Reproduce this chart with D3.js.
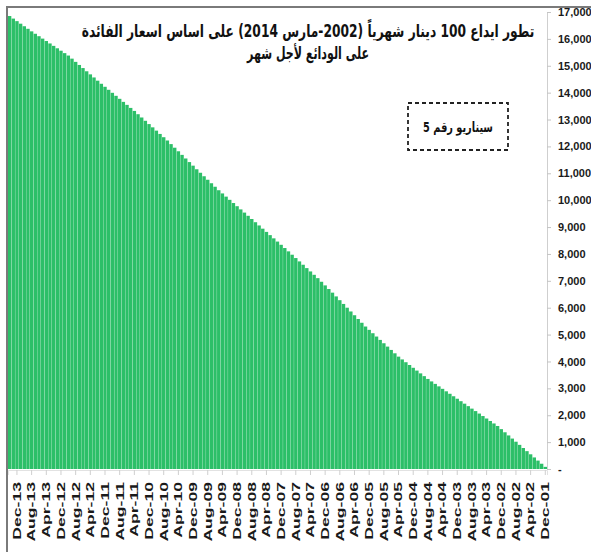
<!DOCTYPE html>
<html>
<head>
<meta charset="utf-8">
<script src="https://cdn.jsdelivr.net/npm/d3@7"></script>
<style>
  body { margin: 0; background: #fff; }
  svg { display: block; }
</style>
</head>
<body>
<div id="chart"></div>
<script>
// balance of a 100 dinar monthly deposit, newest month first (Feb-14 ... Dec-01)
const balances = [
  16850, 16755, 16660, 16565, 16470, 16375, 16280,
  16190, 16100, 16010, 15920, 15830, 15740, 15650, 15560, 15470, 15380,
  15265, 15145, 15030, 14915, 14795, 14680, 14565, 14445, 14330,
  14218, 14106, 13994, 13882, 13770, 13657, 13545, 13432, 13320,
  13198, 13076, 12953, 12831, 12709, 12587, 12464, 12342, 12220,
  12086, 11952, 11819, 11685, 11551, 11417, 11284, 11150,
  11020, 10890, 10760, 10630, 10500, 10370,
  10251, 10132, 10013, 9894, 9776, 9657, 9538, 9419, 9300,
  9180, 9060, 8940, 8820, 8700, 8580, 8460, 8340, 8220,
  8096, 7971, 7847, 7722, 7598, 7473, 7349, 7224, 7100,
  6965, 6830, 6695, 6560,
  6420, 6280, 6140, 6000, 5860, 5720, 5580, 5440, 5300,
  5176, 5051, 4927, 4802, 4678, 4553, 4429, 4304, 4180,
  4076, 3972, 3869, 3765, 3661, 3557, 3454, 3350,
  3258, 3166, 3074, 2982, 2890, 2798, 2706, 2614, 2522, 2430,
  2338, 2246, 2154, 2062, 1970, 1878, 1786, 1694, 1600,
  1483, 1366, 1249, 1132, 1015, 898, 781, 664, 547, 430, 313, 196, 80
];

const monthNames = ["Jan", "Feb", "Mar", "Apr", "May", "Jun", "Jul", "Aug", "Sep", "Oct", "Nov", "Dec"];

// x tick labels, every 4 months
const xTickLabels = [
  "Dec-13", "Aug-13", "Apr-13", "Dec-12", "Aug-12", "Apr-12", "Dec-11", "Aug-11", "Apr-11",
  "Dec-10", "Aug-10", "Apr-10", "Dec-09", "Aug-09", "Apr-09", "Dec-08", "Aug-08", "Apr-08",
  "Dec-07", "Aug-07", "Apr-07", "Dec-06", "Aug-06", "Apr-06", "Dec-05", "Aug-05", "Apr-05",
  "Dec-04", "Aug-04", "Apr-04", "Dec-03", "Aug-03", "Apr-03", "Dec-02", "Aug-02", "Apr-02",
  "Dec-01"
];

const yTickValues = [0, 1000, 2000, 3000, 4000, 5000, 6000, 7000, 8000, 9000,
  10000, 11000, 12000, 13000, 14000, 15000, 16000, 17000];

const titleLines = [
  "تطور ايداع 100 دينار شهرياً (2002-مارس 2014) على اساس اسعار الفائدة",
  "على الودائع لأجل شهر"
];
const scenarioLabel = "سيناريو رقم 5";

// month categories, walking back from Feb-14
const months = [];
let yr = 2014, mo = 1;
for (let i = 0; i < balances.length; i++) {
  months.push(monthNames[mo] + "-" + String(yr % 100).padStart(2, "0"));
  mo--;
  if (mo < 0) { mo = 11; yr--; }
}
const data = months.map((m, i) => ({ month: m, value: balances[i] }));

var W = 591, H = 552;
var plot = { left: 7.9, right: 547, top: 12, bottom: 469 };

var svg = d3.select("#chart")
  .append("svg")
  .attr("width", W)
  .attr("height", H);

var x = d3.scaleBand()
  .domain(months)
  .range([plot.left, plot.right])
  .paddingInner(0.07)
  .paddingOuter(0);

var y = d3.scaleLinear()
  .domain([0, 17000])
  .range([plot.bottom, plot.top]);

// Bars
svg.append("g")
  .selectAll("rect")
  .data(data)
  .enter()
  .append("rect")
  .attr("x", d => x(d.month))
  .attr("y", d => y(d.value))
  .attr("width", x.bandwidth())
  .attr("height", d => y(0) - y(d.value))
  .attr("fill", "#2cbf68");

// Y axis on the right
var yAxis = svg.append("g")
  .attr("transform", "translate(" + plot.right + ",0)")
  .call(d3.axisRight(y)
    .tickValues(yTickValues)
    .tickSize(4)
    .tickPadding(7)
    .tickFormat(d => d === 0 ? "-" : d3.format(",")(d)));

yAxis.select(".domain").attr("stroke", "#cfcfcf");
yAxis.selectAll(".tick line").attr("stroke", "#c4c4c4");
yAxis.selectAll("text")
  .style("font-family", "'Liberation Sans', Arial, sans-serif")
  .style("font-weight", "bold")
  .style("font-size", "11px")
  .attr("fill", "#1a1a1a");

// X axis
var xAxis = svg.append("g")
  .attr("transform", "translate(0," + (plot.bottom + 1) + ")")
  .call(d3.axisBottom(x).tickValues(xTickLabels).tickSize(5));

xAxis.select(".domain").attr("stroke", "#e2e2e2");
xAxis.selectAll(".tick line").attr("stroke", "#cfcfcf");
xAxis.selectAll("text")
  .attr("x", 0)
  .attr("y", 0)
  .attr("dy", "0.35em")
  .attr("transform", "translate(0,12) rotate(-90) scale(1.6,1)")
  .style("text-anchor", "end")
  .style("font-family", "'Liberation Sans', Arial, sans-serif")
  .style("font-weight", "bold")
  .style("font-size", "11px")
  .attr("fill", "#1a1a1a");

// Title, two centred lines, stretched to the reference widths
var titleWidths = [453, 122];
var titleY = [37, 59];
titleLines.forEach((t, i) => {
  var g = svg.append("g").attr("transform", "translate(308," + titleY[i] + ")");
  var txt = g.append("text")
    .attr("direction", "rtl")
    .attr("text-anchor", "middle")
    .style("font-family", "'DejaVu Sans', 'Noto Sans', sans-serif")
    .style("font-weight", "bold")
    .style("font-size", "17px")
    .attr("fill", "#111")
    .text(t);
  var w = txt.node().getComputedTextLength();
  if (w > 0) txt.attr("transform", "scale(" + (titleWidths[i] / w) + ",1)");
});

// Scenario box
svg.append("rect")
  .attr("x", 408)
  .attr("y", 103)
  .attr("width", 100)
  .attr("height", 47)
  .attr("fill", "none")
  .attr("stroke", "#222")
  .attr("stroke-width", 1.8)
  .attr("stroke-dasharray", "4,3");

var sg = svg.append("g").attr("transform", "translate(458,132)");
var st = sg.append("text")
  .attr("direction", "rtl")
  .attr("text-anchor", "middle")
  .style("font-family", "'DejaVu Sans', 'Noto Sans', sans-serif")
  .style("font-weight", "bold")
  .style("font-size", "14px")
  .attr("fill", "#111")
  .text(scenarioLabel);
var sw = st.node().getComputedTextLength();
if (sw > 0) st.attr("transform", "scale(" + (70 / sw) + ",1)");

// Frame: top and left edges
svg.append("line")
  .attr("x1", 6).attr("x2", W)
  .attr("y1", 7).attr("y2", 7)
  .attr("stroke", "#7a7a7a")
  .attr("stroke-width", 2);
svg.append("line")
  .attr("x1", 7).attr("x2", 7)
  .attr("y1", 6).attr("y2", H)
  .attr("stroke", "#7a7a7a")
  .attr("stroke-width", 2);
</script>
</body>
</html>
